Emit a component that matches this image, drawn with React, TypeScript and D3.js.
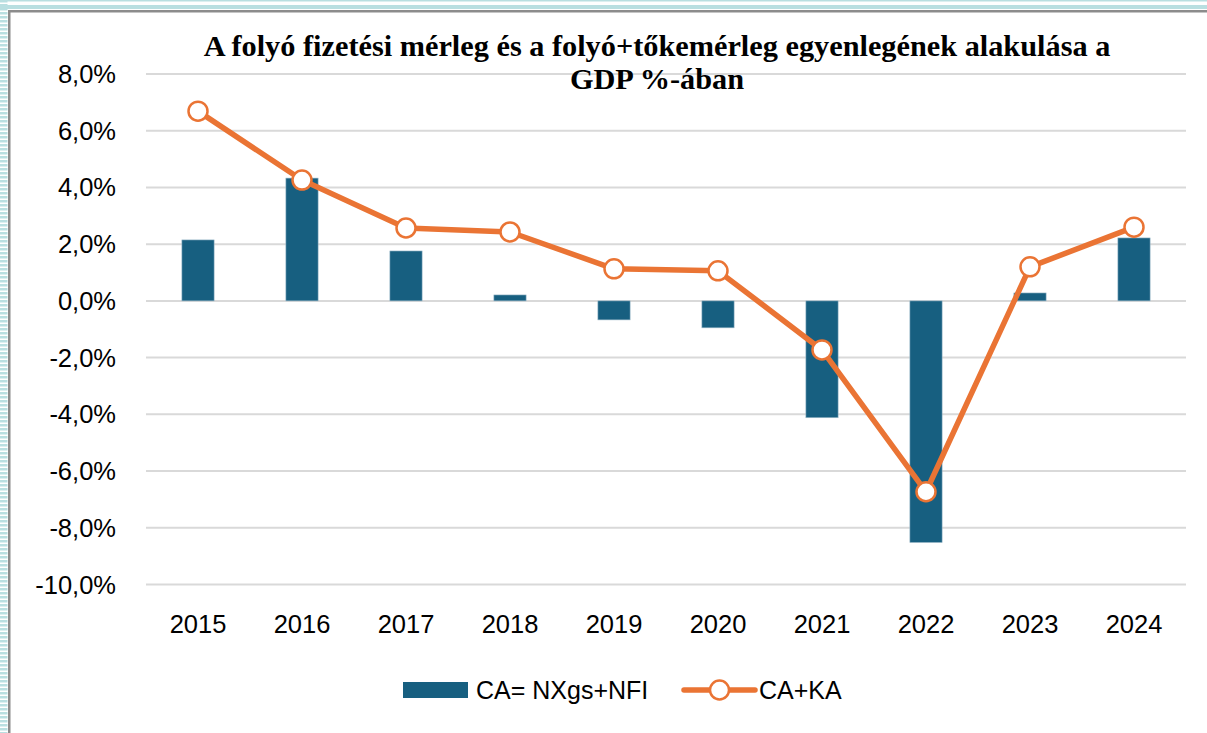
import React from "react";
import * as d3 from "d3";

const years = ["2015", "2016", "2017", "2018", "2019", "2020", "2021", "2022", "2023", "2024"];
const caValues = [2.15, 4.33, 1.76, 0.21, -0.67, -0.95, -4.12, -8.52, 0.28, 2.22];
const caKaValues = [6.69, 4.26, 2.57, 2.43, 1.13, 1.06, -1.73, -6.73, 1.2, 2.6];
const yTicks = [8, 6, 4, 2, 0, -2, -4, -6, -8, -10];
const titleLines = [
  "A folyó fizetési mérleg és a folyó+tőkemérleg egyenlegének alakulása a",
  "GDP %-ában",
];
const legendLabels = ["CA= NXgs+NFI", "CA+KA"];

const W = 1207;
const H = 733;
const BLUE = "#175f80";
const ORANGE = "#ea7434";
const GRID = "#d9d9d9";
const STRIPE = "#b9dfe1";

export default function App() {
  const x = d3.scaleBand<string>().domain(years).range([146, 1186]).paddingInner(0.69).paddingOuter(0.345);
  const xc = d3.scalePoint<string>().domain(years).range([198, 1134]);
  const y = d3.scaleLinear().domain([-10, 8]).range([584.5, 74]);
  const fmt = (v: number) => d3.format(".1f")(v).replace(".", ",").replace("−", "-") + "%";
  const line = d3
    .line<number>()
    .x((_, i) => xc(years[i]) as number)
    .y((d) => y(d));

  const leftStripes = d3.range(0, H, 4);

  return (
    <svg
      width={W}
      height={H}
      style={{ position: "absolute", left: 0, top: 0, background: "#fff" }}
      fontFamily="'Liberation Sans', Arial, sans-serif"
    >
      {/* decorative border */}
      <rect x={0} y={0} width={W} height={1.5} fill={STRIPE} />
      <rect x={0} y={5} width={W} height={4} fill={STRIPE} />
      {leftStripes.map((s) => (
        <rect key={s} x={0} y={s} width={7.5} height={2.5} fill={STRIPE} />
      ))}
      <rect x={8} y={10} width={W - 8} height={2.5} fill="#8c8c8c" />
      <rect x={8} y={10} width={2.5} height={H - 10} fill="#8c8c8c" />

      {/* grid */}
      {yTicks.map((t) => (
        <line key={t} x1={146} x2={1186} y1={y(t)} y2={y(t)} stroke={GRID} strokeWidth={2} />
      ))}
      {yTicks.map((t) => (
        <text key={"l" + t} x={116} y={y(t) + 9} textAnchor="end" fontSize={25.5} fill="#000">
          {fmt(t)}
        </text>
      ))}

      {/* title */}
      {titleLines.map((t, i) => (
        <text
          key={i}
          x={657}
          y={56 + i * 33}
          textAnchor="middle"
          fontFamily="'Liberation Serif', 'Times New Roman', serif"
          fontWeight="bold"
          fontSize={30.3}
          fill="#000"
        >
          {t}
        </text>
      ))}

      {/* bars */}
      {caValues.map((v, i) => (
        <rect
          key={i}
          x={x(years[i])}
          y={Math.min(y(v), y(0))}
          width={x.bandwidth()}
          height={Math.abs(y(v) - y(0))}
          fill={BLUE}
          stroke="#9fbccb"
          strokeWidth={0.6}
        />
      ))}

      {/* line */}
      <path d={line(caKaValues) || ""} fill="none" stroke={ORANGE} strokeWidth={5.5} strokeLinejoin="round" />
      {caKaValues.map((v, i) => (
        <circle key={i} cx={xc(years[i])} cy={y(v)} r={9.5} fill="#fff" stroke={ORANGE} strokeWidth={2.5} />
      ))}

      {/* x labels */}
      {years.map((yr) => (
        <text key={yr} x={xc(yr)} y={633} textAnchor="middle" fontSize={25.5} fill="#000">
          {yr}
        </text>
      ))}

      {/* legend */}
      <rect x={403} y={682} width={65} height={16} fill={BLUE} />
      <text x={476} y={699} fontSize={25} fill="#000">
        {legendLabels[0]}
      </text>
      <line x1={684} x2={755} y1={690} y2={690} stroke={ORANGE} strokeWidth={5.5} strokeLinecap="round" />
      <circle cx={719.5} cy={690} r={9.5} fill="#fff" stroke={ORANGE} strokeWidth={2.5} />
      <text x={759} y={699} fontSize={25} fill="#000">
        {legendLabels[1]}
      </text>
    </svg>
  );
}
